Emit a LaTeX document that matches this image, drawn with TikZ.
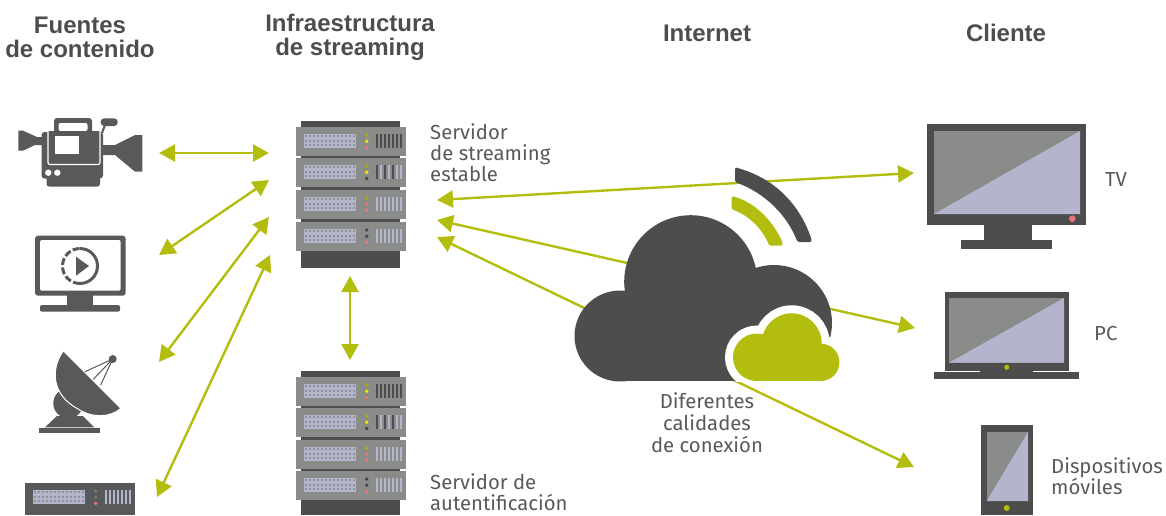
\documentclass[tikz,border=0pt]{standalone}
\usepackage{fontspec}
\setmainfont{Fira Sans}
\newfontfamily\titlefont{Liberation Sans}
\usetikzlibrary{arrows.meta}
\definecolor{acc}{HTML}{B3BD0E}
\definecolor{drk}{HTML}{4D4D4D}
\definecolor{ico}{HTML}{58595B}
\definecolor{gry}{HTML}{8A8C8A}
\definecolor{lil}{HTML}{B4B4CC}
\definecolor{ledr}{HTML}{EE7078}
\definecolor{ledy}{HTML}{FFE600}
\definecolor{ledo}{HTML}{B0A810}
\definecolor{ledd}{HTML}{444444}
\definecolor{ledg}{HTML}{777777}
\tikzset{
  conn/.style={draw=acc,line width=2.4pt,{Triangle[length=16pt,width=17pt]}-{Triangle[length=16pt,width=17pt]}},
  title/.style={font=\titlefont\bfseries\fontsize{24}{24}\selectfont,text=drk,align=center,inner sep=0pt},
  lab/.style={font=\fontsize{20.3}{21}\selectfont,text=ico,align=left,inner sep=0pt},
  labc/.style={font=\fontsize{20.3}{22}\selectfont,text=ico,align=center,inner sep=0pt}
}
\newcommand{\rackunit}[8]{%
  \begin{scope}[shift={(#1,#2)}]
    \fill[#3] (0,0) rectangle (110,#8);
    \fill[lil] (8,7) rectangle (60,21);
    \foreach \gx in {10,14,...,58}{\foreach \gy in {9,13.5,18}{\fill[gry!85!lil] (\gx-1,\gy-1) rectangle (\gx+1,\gy+1);}}
    \fill[#4] (70.7,8) circle (1.9);
    \fill[#5] (70.7,14.2) circle (1.9);
    \fill[#6] (70.7,20.4) circle (1.9);
    \foreach \bn [count=\bi from 0] in {#7}{\fill[\bn] (79.7+\bi*4.05,7) rectangle (81.7+\bi*4.05,21);}
  \end{scope}}
\begin{document}
\begin{tikzpicture}[x=1pt,y=-1pt,line cap=butt]
\useasboundingbox (0,0) rectangle (1166,515);
% ---- named anchor points
\coordinate (a1l) at (159,153); \coordinate (a1r) at (269,153);
\coordinate (a2l) at (159,255); \coordinate (a2r) at (269,180);
\coordinate (a3l) at (159,362); \coordinate (a3r) at (269,217);
\coordinate (a4l) at (157,497); \coordinate (a4r) at (270,255);
\coordinate (vt) at (350,276); \coordinate (vb) at (350,360);
\coordinate (s1) at (437,200); \coordinate (tv) at (914,173);
\coordinate (s2) at (437,220); \coordinate (pc) at (915,328);
\coordinate (s3) at (437,237); \coordinate (mob) at (914,467);
% ---- connectors
\draw[conn] (a1l) -- (a1r);
\draw[conn] (a2l) -- (a2r);
\draw[conn] (a3l) -- (a3r);
\draw[conn] (a4l) -- (a4r);
\draw[conn] (vt) -- (vb);
\draw[conn] (s1) -- (tv);
\draw[conn] (s2) -- (pc);
\draw[conn] (s3) -- (mob);
% ---- upper rack
\fill[drk] (301,121) rectangle (400,268);
\rackunit{296}{127}{gry}{ledo}{ledy}{ledr}{drk,drk,drk,drk,drk,drk,drk}{29}
\rackunit{296}{158}{gry}{ledo}{ledy}{ledd}{drk,lil,drk,lil,drk,lil,lil}{29}
\rackunit{296}{190}{gry}{ledo}{ledr}{ledr}{lil,lil,lil,lil,lil,lil,lil}{29}
\rackunit{296}{222}{gry}{ledd}{ledd}{ledr}{lil,lil,lil,lil,lil,lil,lil}{29}
% ---- lower rack
\fill[drk] (301,371) rectangle (400,515);
\rackunit{296}{377}{gry}{ledo}{ledy}{ledr}{drk,drk,drk,drk,drk,drk,drk}{29}
\rackunit{296}{408}{gry}{ledo}{ledy}{ledd}{drk,lil,drk,lil,drk,lil,lil}{29}
\rackunit{296}{440}{gry}{ledo}{ledr}{ledr}{lil,lil,lil,lil,lil,lil,lil}{29}
\rackunit{296}{471}{gry}{ledd}{ledd}{ledr}{lil,lil,lil,lil,lil,lil,lil}{29}
% ---- small source rack
\rackunit{25}{483}{ico}{ledg}{ledg}{ledr}{lil,lil,lil,lil,lil,lil,lil}{32}
% ---- camera
\fill[ico] (18.3,130.7) -- (23,130.7) -- (37,137) -- (42,137) -- (42,145) -- (35,145) -- (23,150.7) -- (18.3,150.7) -- cycle;
\fill[ico,rounded corners=3pt] (41.5,132) rectangle (103,178.5);
\fill[ico,rounded corners=3pt] (46.5,170) rectangle (100,186.7);
\fill[ico] (103,145) -- (115,145) -- (135,135) -- (142.3,135) -- (142.3,171.7) -- (135,171.7) -- (115,155) -- (103,155) -- cycle;
\fill[ico,rounded corners=3pt] (54,118) rectangle (92,136);
\fill[white,rounded corners=2pt] (58.5,123) rectangle (87.5,131);
\fill[ico] (48,131) rectangle (100,163);
\draw[white,line width=1.2pt,rounded corners=2pt] (48,131) -- (48,164.5) -- (100,164.5) -- (100,131);
\fill[white] (54.5,135.5) rectangle (78.5,154);
\fill[white] (48.3,172.7) circle (3.2);
\fill[white] (57.3,172.7) circle (3.2);
\fill[ico,rounded corners=3.5pt] (100.7,118.3) rectangle (117.7,126);
\draw[ico,line width=2pt] (105,125) -- (102,133);
% ---- monitor icon
\fill[ico,rounded corners=3pt] (35,235.7) rectangle (125.7,295.7);
\fill[white,rounded corners=2pt] (40,240) rectangle (120.7,290.7);
\fill[ico] (67.3,295) rectangle (93.3,306);
\fill[ico,rounded corners=2pt] (40,305) rectangle (120,311.7);
\draw[ico,line width=3pt] (80,248.5) arc[start angle=-90,end angle=90,radius=17.5];
\draw[ico,line width=3pt,dash pattern=on 7pt off 2.5pt] (80,283.5) arc[start angle=90,end angle=270,radius=17.5];
\fill[ico] (76,256.7) -- (89,266) -- (76,275.7) -- cycle;
% ---- dish
\fill[ico] (39,428.3) rectangle (100,433);
\fill[ico] (45,427.3) -- (57,416) -- (83,416) -- (94.3,427.3) -- cycle;
\fill[ico] (68.3,403.3) circle (15);
\draw[white,line width=1pt,fill=ico] (63.3,350.7) .. controls (50,370) and (52,395) .. (78,409) .. controls (92,418) and (110,418) .. (121,408.3) -- cycle;
\fill[ico] (112.7,359) circle (4);
\draw[ico,line width=1pt] (85,371.7) -- (112.7,359) -- (93.3,379.3);
\draw[ico,line width=1pt] (112.7,359) -- (100.7,385);
% ---- cloud (a union of lobes)
\fill[drk] (620,336) circle (45.5);
\fill[drk] (690.7,281.7) circle (66.5);
\fill[drk] (774,323) circle (58);
\fill[drk] (620,300) rectangle (774,381);
\begin{scope}
  \clip (700,290) rectangle (860,381);
  \draw[white,line width=16pt,fill=white] (756.7,357.3) circle (23.7);
  \draw[white,line width=16pt,fill=white] (791.7,343.3) circle (30);
  \draw[white,line width=16pt,fill=white] (820.7,362.3) circle (18.7);
  \draw[white,line width=16pt,fill=white] (757,357) rectangle (820,381);
\end{scope}
\fill[acc] (756.7,357.3) circle (23.7);
\fill[acc] (791.7,343.3) circle (30);
\fill[acc] (820.7,362.3) circle (18.7);
\fill[acc] (757,350) rectangle (820.7,381);
% ---- signal arcs
\fill[drk,rounded corners=1.5pt] (735,167.3) .. controls (775,178) and (800,205) .. (811.7,240) -- (811.5,242) -- (797.5,242) .. controls (787,215) and (765,193) .. (735,182) -- cycle;
\fill[acc,rounded corners=1.5pt] (731.7,196) .. controls (758,203) and (775,225) .. (782.7,243) -- (782.7,245.7) -- (769.3,245.7) .. controls (762,228) and (748,215) .. (731.7,209.3) -- cycle;
% ---- TV
\fill[drk] (927,124) rectangle (1086,225);
\fill[gry] (934,131) rectangle (1080,214);
\fill[lil] (934,214) -- (1080,131) -- (1080,214) -- cycle;
\fill[ledr] (1072.3,218.7) circle (3.3);
\fill[drk] (984,225) rectangle (1032,240);
\fill[drk] (961,240) rectangle (1052,249);
% ---- PC
\fill[drk] (945,292) rectangle (1069,370.7);
\fill[gry] (949,298) rectangle (1064,362.7);
\fill[lil] (949,362.7) -- (1064,298) -- (1064,362.7) -- cycle;
\fill[drk] (980,370) rectangle (1032.7,373);
\fill[drk] (934,372) rectangle (1079,379);
\fill[acc] (1006.7,367.3) circle (2.5);
% ---- phone
\fill[drk] (981,425) rectangle (1033,515);
\fill[gry] (986.7,432) rectangle (1028,501);
\fill[lil] (986.7,501) -- (1028,432) -- (1028,501) -- cycle;
\fill[acc] (1006.7,508) circle (3);
% ---- titles
\node[title] (t1) at (80,37) {Fuentes\\de contenido};
\node[title] (t2) at (350,37) {Infraestructura\\de streaming};
\node[title] (t3) at (707,33) {Internet};
\node[title] (t4) at (1006,33) {Cliente};
% ---- labels
\node[lab,anchor=west] (l1) at (430,153) {Servidor\\de streaming\\estable};
\node[lab,anchor=west] (l2) at (430,492.5) {Servidor de\\autentificación};
\node[labc] (l3) at (707,423) {Diferentes\\calidades\\de conexión};
\node[lab,anchor=west] (l4) at (1105,179) {TV};
\node[lab,anchor=west] (l5) at (1094,333) {PC};
\node[lab,anchor=west] (l6) at (1051,476) {Dispositivos\\móviles};
\end{tikzpicture}
\end{document}
